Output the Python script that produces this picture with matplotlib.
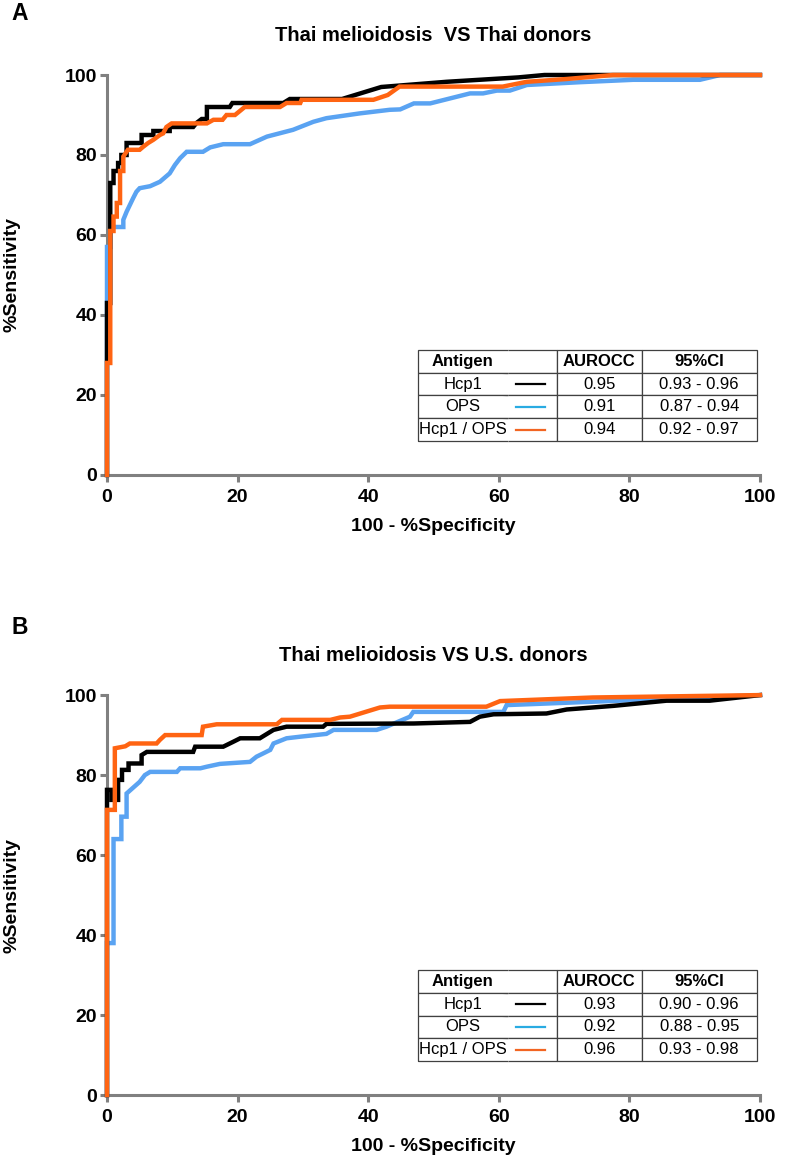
import matplotlib; matplotlib.use("Agg")
import matplotlib.pyplot as plt

plt.rcParams["font.family"] = ["Liberation Sans", "DejaVu Sans"]

# --- panel A: Thai melioidosis VS Thai donors (100-%spec, %sens) ---
a_hcp1_x = [0, 0, 0.5, 0.5, 1.0, 1.0, 1.7, 1.7, 2.2, 2.2, 3.0, 3.0, 5.3, 5.3, 7.1, 7.1, 9.6, 9.6,
            13.2, 13.7, 14.5, 15.3, 15.3, 18.8, 19.2, 27, 28, 36, 38, 40, 42, 52, 63, 67, 100]
a_hcp1_y = [0, 43, 43, 73, 73, 76, 76, 78, 78, 80, 80, 83, 83, 85, 85, 86, 86, 87,
            87, 88, 89, 89, 92, 92, 93, 93, 94, 94, 95, 96, 97, 98.3, 99.4, 100, 100]
a_ops_x = [0, 0, 0.5, 0.5, 2.5, 2.5, 3.0, 3.5, 4.0, 4.5, 5.0, 6.6, 8.1, 9.6, 10.4, 11.2, 12.2,
           14.7, 15.8, 17.8, 21.9, 24.5, 28.5, 31.6, 33.6, 38.7, 43.3, 44.9, 47, 49.5,
           55.6, 57.6, 59.7, 61.7, 64.3, 72.4, 80.6, 90.8, 93.9, 100]
a_ops_y = [0, 57, 57, 62, 62, 63.8, 65.8, 67.5, 69.2, 70.8, 71.7, 72.2, 73.3, 75.4, 77.5, 79.2, 80.8,
           80.8, 81.9, 82.7, 82.7, 84.6, 86.3, 88.3, 89.2, 90.4, 91.3, 91.4, 92.9, 92.9,
           95.4, 95.4, 96.1, 96.1, 97.5, 98.2, 98.8, 98.8, 100, 100]
a_combo_x = [0, 0, 0.5, 0.5, 1.0, 1.0, 1.5, 1.5, 2.0, 2.0, 2.5, 2.5, 3.2, 5.0, 5.5, 6.3, 7.1, 8.1,
             8.6, 9.1, 9.9, 15.3, 16.3, 17.7, 18.3, 19.6, 21.1, 26.5, 27.5, 29.6, 29.8, 40.8,
             43.0, 44.8, 60.6, 64.3, 70.4, 77.5, 100]
a_combo_y = [0, 28, 28, 61, 61, 64.6, 64.6, 68, 68, 76, 76, 79.6, 81.3, 81.3, 82, 83, 83.8, 85,
             85.4, 87, 87.9, 87.9, 88.8, 88.8, 90, 90, 92, 92, 93, 93, 93.8, 93.8,
             95, 97.1, 97.1, 98.3, 99, 100, 100]

# --- panel B: Thai melioidosis VS U.S. donors ---
b_hcp1_x = [0, 0, 0.7, 0.7, 1.7, 1.7, 2.3, 2.3, 3.3, 3.3, 5.3, 5.3, 6.1, 13.2, 13.5, 17.8, 19.3,
            20.4, 23.4, 25.5, 27.5, 33.1, 33.6, 47, 55.6, 57.1, 59.2, 67.3, 70.4, 77.5, 85.7,
            92.3, 100]
b_hcp1_y = [0, 76.3, 76.3, 73.8, 73.8, 78.8, 78.8, 81.3, 81.3, 82.9, 82.9, 85, 85.8, 85.8, 87.1,
            87.1, 88.3, 89.2, 89.2, 91.3, 92.1, 92.1, 92.8, 92.9, 93.3, 94.6, 95.2, 95.4,
            96.4, 97.3, 98.6, 98.6, 100]
b_ops_x = [0, 0, 1.0, 1.0, 2.2, 2.2, 3.0, 3.0, 5.0, 5.8, 6.6, 10.7, 11.2, 14.3, 15.3, 17.3,
           21.9, 22.9, 23.9, 25.0, 25.5, 27.5, 29.6, 33.6, 34.7, 41.3, 42.8, 46.4, 46.9, 60.7,
           61.2, 84.7, 100]
b_ops_y = [0, 38, 38, 64, 64, 69.6, 69.6, 75.4, 78.3, 80, 80.8, 80.8, 81.7, 81.7, 82.1, 82.8,
           83.3, 84.6, 85.4, 86.3, 87.9, 89.2, 89.6, 90.3, 91.3, 91.3, 92.1, 94.6, 95.8, 95.8,
           97.5, 99, 100]
b_combo_x = [0, 0, 1.2, 1.2, 2.8, 3.5, 7.6, 8.1, 8.9, 14.5, 14.7, 16.8, 26, 26.8, 34.2, 35.7,
             37.2, 41.8, 43.3, 58.1, 60.2, 74.4, 100]
b_combo_y = [0, 71.3, 71.3, 86.7, 87.2, 87.9, 87.9, 88.8, 90, 90, 92.1, 92.7, 92.7, 93.8, 93.8,
             94.4, 94.6, 96.9, 97.1, 97.1, 98.5, 99.4, 100]

antigens = ["Hcp1", "OPS", "Hcp1 / OPS"]
a_auc = ["0.95", "0.91", "0.94"]
a_ci = ["0.93 - 0.96", "0.87 - 0.94", "0.92 - 0.97"]
b_auc = ["0.93", "0.92", "0.96"]
b_ci = ["0.90 - 0.96", "0.88 - 0.95", "0.93 - 0.98"]

C_BLACK, C_BLUE, C_ORANGE = "#000000", "#5aa3f2", "#ff6412"
LEG_COLORS = ["#000000", "#29abe2", "#f26522"]
GREY = "#808080"

fig = plt.figure(figsize=(7.85, 11.61), dpi=100)
ax_a = fig.add_axes([0.1363, 0.5909, 0.8318, 0.3445])
ax_b = fig.add_axes([0.1363, 0.0568, 0.8318, 0.3445])

panels = [
    (ax_a, "A", 13, "Thai melioidosis  VS Thai donors",
     [(a_ops_x, a_ops_y, C_BLUE), (a_hcp1_x, a_hcp1_y, C_BLACK), (a_combo_x, a_combo_y, C_ORANGE)],
     a_auc, a_ci),
    (ax_b, "B", 628, "Thai melioidosis VS U.S. donors",
     [(b_ops_x, b_ops_y, C_BLUE), (b_hcp1_x, b_hcp1_y, C_BLACK), (b_combo_x, b_combo_y, C_ORANGE)],
     b_auc, b_ci),
]

for ax, letter, letter_px, title, series, auc, ci in panels:
    for xs, ys, c in series:
        ax.plot(xs, ys, color=c, lw=3.2, solid_joinstyle="miter", clip_on=False, zorder=3)
    ax.set_xlim(0, 100); ax.set_ylim(0, 100)
    ax.set_xticks(range(0, 101, 20)); ax.set_yticks(range(0, 101, 20))
    for s in ["top", "right"]:
        ax.spines[s].set_visible(False)
    for s in ["left", "bottom"]:
        ax.spines[s].set_color(GREY); ax.spines[s].set_linewidth(2.2)
    ax.tick_params(colors=GREY, width=2.2, length=5, labelcolor="black", labelsize=14)
    ax.tick_params(axis="y", pad=2); ax.tick_params(axis="x", pad=5)
    for lab in ax.get_xticklabels() + ax.get_yticklabels():
        lab.set_fontweight("bold")
    ax.set_xlabel("100 - %Specificity", fontsize=14, fontweight="bold")
    ax.set_ylabel("%Sensitivity", fontsize=14, fontweight="bold")
    ax.xaxis.set_label_coords(0.5, -0.108)
    ax.yaxis.set_label_coords(-0.133, 0.5)
    ax.text(0.5, 1.1, title, transform=ax.transAxes, ha="center", va="center",
            fontsize=14.5, fontweight="bold")
    fig.text(20 / 785, 1 - letter_px / 1161, letter, fontsize=16.5, fontweight="bold",
             ha="center", va="center")

    # table with AUROCC values, first column split so the legend line sits in it
    cells = [[n, "", a, c] for n, a, c in zip(antigens, auc, ci)]
    widths = [0.138, 0.075, 0.130, 0.176]
    bx, by, bw, bh = 0.476, 0.085, sum(widths), 0.2275
    tab = ax.table(cellText=cells, colLabels=["Antigen", "", "AUROCC", "95%CI"],
                   colWidths=widths, cellLoc="center", bbox=[bx, by, bw, bh], zorder=5)
    tab.auto_set_font_size(False)
    tab.set_fontsize(12)
    for (r, c), cell in tab.get_celld().items():
        cell.set_edgecolor("#404040"); cell.set_linewidth(0.9)
        if r == 0:
            cell.get_text().set_fontweight("bold")
        if c == 0:
            cell.visible_edges = "BTL"
        elif c == 1:
            cell.visible_edges = "BTR"
    rh = bh / 4
    for i, col in enumerate(LEG_COLORS):
        yc = by + bh - (i + 1.5) * rh
        ax.plot([0.627, 0.671], [yc, yc], transform=ax.transAxes, color=col, lw=1.6,
                clip_on=False, zorder=6)

fig.savefig("out.png", dpi=100)
